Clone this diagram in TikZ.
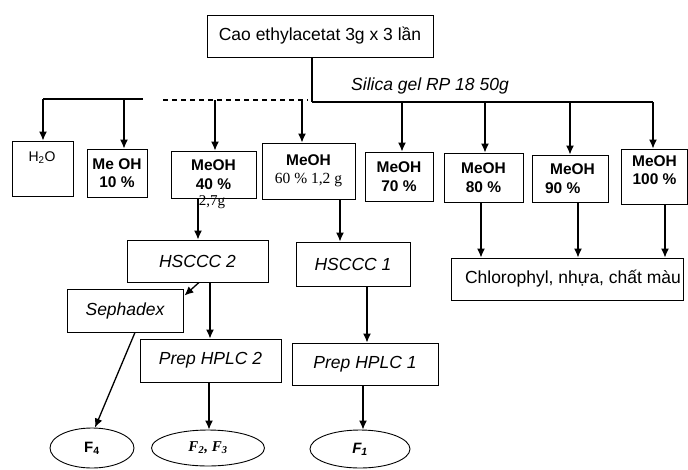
\documentclass[tikz,border=0pt]{standalone}
\usepackage{fontspec}
\setmainfont{Liberation Sans}
\newfontfamily\serifrm{Liberation Serif}
\usetikzlibrary{arrows.meta,shapes.geometric}
\begin{document}
\begin{tikzpicture}[x=1pt,y=-1pt,
  box/.style={draw, line width=0.9pt, inner sep=0pt, align=center, font=\fontsize{15.5}{18.5}\selectfont\bfseries},
  ibox/.style={draw, line width=0.9pt, inner sep=0pt, font=\fontsize{17.5}{20}\selectfont\itshape},
  arr/.style={line width=1.3pt, -{Latex[length=9pt,width=8pt]}},
  bus/.style={line width=1.1pt},
  oval/.style={draw, ellipse, line width=0.9pt, inner sep=0pt, font=\fontsize{15}{18}\selectfont\bfseries}]
\useasboundingbox (0,0) rectangle (688,469);

% top
\node[box, minimum width=226pt, minimum height=42pt, font=\fontsize{17.5}{20}\selectfont] (top) at (320,36) {Cao ethylacetat 3g x 3 lần};
\node[font=\fontsize{17.5}{20}\selectfont\itshape] (silica) at (430,86) {Silica gel RP 18 50g};

% fraction boxes
\node[box, minimum width=61pt, minimum height=55pt] (h2o) at (42.5,168.5) {};
\node[font=\fontsize{14}{16}\selectfont] (h2ot) at (42,158) {H\textsubscript{2}O};
\node[box, minimum width=60pt, minimum height=48pt] (m10) at (117,173) {Me OH\\10 \%};
\node[box, minimum width=85pt, minimum height=47pt] (m40) at (213.5,174.5) {MeOH\\40 \%};
\node[font=\fontsize{15}{18}\selectfont\serifrm] (m40g) at (212,202) {2,7g};
\node[box, minimum width=93pt, minimum height=56pt] (m60) at (308.5,171) {MeOH\\{\mdseries\serifrm 60 \% 1,2 g}};
\node[box, minimum width=68pt, minimum height=49pt] (m70) at (399,176.5) {MeOH\\70 \%};
\node[box, minimum width=79pt, minimum height=49pt] (m80) at (483.5,177.5) {MeOH\\80 \%};
\node[box, minimum width=76pt, minimum height=47pt, align=left] (m90) at (570,178.5) {\hspace{5pt}MeOH\\90 \%};
\node[box, minimum width=66pt, minimum height=55pt] (m100) at (654.5,176.5) {MeOH\\100 \%\\[-6pt]\mbox{}};

% second level
\node[ibox, minimum width=141pt, minimum height=42pt] (hs2) at (197.5,261) {HSCCC 2};
\node[ibox, minimum width=114pt, minimum height=44pt] (hs1) at (353,264) {HSCCC 1};
\node[ibox, minimum width=116pt, minimum height=43pt] (seph) at (125,310.5) {Sephadex};
\node[ibox, minimum width=141pt, minimum height=43pt] (hp2) at (210.5,360.5) {Prep HPLC 2};
\node[ibox, minimum width=146pt, minimum height=42pt] (hp1) at (365,364) {Prep HPLC 1};
\node[box, minimum width=232pt, minimum height=42pt, font=\fontsize{17.5}{20}\selectfont] (chl) at (567,279) {\hspace*{12pt}Chlorophyl, nhựa, chất màu};

% ellipses
\node[oval, minimum width=84pt, minimum height=40pt] (f4) at (92,448) {F\textsubscript{4}};
\node[oval, minimum width=113pt, minimum height=36pt, font=\fontsize{15}{18}\selectfont\serifrm\bfseries\itshape] (f23) at (208,448) {F\textsubscript{2}, F\textsubscript{3}};
\node[oval, minimum width=100pt, minimum height=38pt, font=\fontsize{15}{18}\selectfont\bfseries\itshape] (f1) at (360,449) {F\textsubscript{1}};

% bus
\coordinate (j) at (312,102);
\coordinate (b1) at (43,99);
\coordinate (b2) at (124,99);
\coordinate (bl) at (143,99);
\coordinate (d1) at (163,100);
\coordinate (b3) at (215,100);
\coordinate (b4) at (302,100);
\coordinate (d2) at (308,100);
\coordinate (b5) at (402,102);
\coordinate (b6) at (485,102);
\coordinate (b7) at (570,102);
\coordinate (b8) at (653,102);

\draw[bus] (top.south -| j) -- (j);
\draw[bus] (b1) -- (bl);
\draw[bus, dashed, dash pattern=on 5pt off 4pt] (d1) -- (d2);
\draw[bus] (j) -- (b8);

\draw[arr] (b1) -- (b1 |- h2o.north);
\draw[arr] (b2) -- (b2 |- m10.north);
\draw[arr] (b3) -- (b3 |- m40.north);
\draw[arr] (b4) -- (b4 |- m60.north);
\draw[arr] (b5) -- (b5 |- m70.north);
\draw[arr] (b6) -- (b6 |- m80.north);
\draw[arr] (b7) -- (b7 |- m90.north);
\draw[arr] (b8) -- (b8 |- m100.north);

% lower connectors
\draw[arr] (m40.south -| 198,0) -- (hs2.north -| 198,0);
\draw[arr] (m60.south -| 340,0) -- (hs1.north -| 340,0);
\draw[arr] (hs2.south -| 199,0) -- ([yshift=-7pt,xshift=1pt]seph.north east);
\draw[arr] (hs2.south -| 210,0) -- (hp2.north -| 210,0);
\draw[arr] (hs1.south -| 367,0) -- (hp1.north -| 367,0);
\draw[arr] (seph.south -| 135,0) -- ([xshift=3pt]f4.north);
\draw[arr] (hp2.south -| 209,0) -- (f23.north -| 209,0);
\draw[arr] (hp1.south -| 363,0) -- (f1.north -| 363,0);
\draw[arr] (m80.south -| 481,0) -- (chl.north -| 481,0);
\draw[arr] (m90.south -| 578,0) -- (chl.north -| 578,0);
\draw[arr] (m100.south -| 665,0) -- (chl.north -| 665,0);
\end{tikzpicture}
\end{document}
